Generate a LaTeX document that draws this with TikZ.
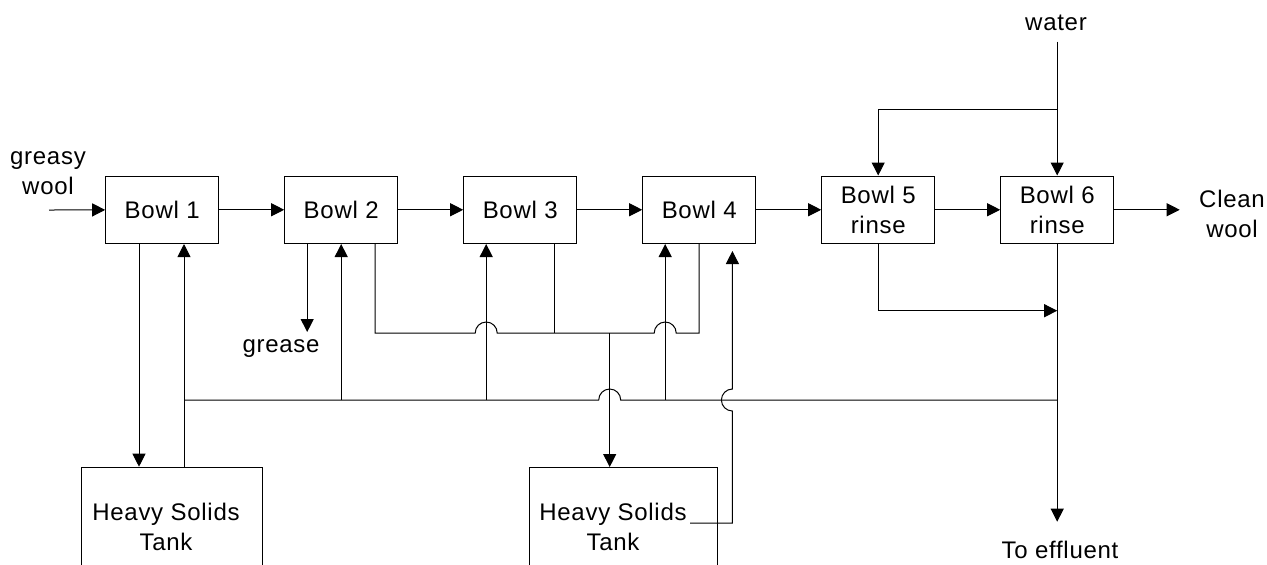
\documentclass[tikz,border=0pt]{standalone}
\usepackage{fontspec}
\setmainfont{Liberation Sans}[LetterSpace=3]
\usepackage{tikz}
\usetikzlibrary{arrows.meta, positioning, calc}

\begin{document}
\begin{tikzpicture}[x=0.5pt, y=-0.5pt, node distance=32.5pt, line width=0.5pt,
    font=\fontsize{12pt}{15pt}\selectfont, >={Triangle[length=6.5pt, width=6.5pt]}]
    \tikzstyle{bowl} = [rectangle, draw, align=center, inner sep=1pt,
                        minimum width=56.5pt, minimum height=33.75pt]
    \tikzstyle{tank} = [rectangle, draw, anchor=north west, minimum height=70pt]
    \tikzstyle{txt} = [align=center, inner sep=0pt]
    \tikzstyle{flow} = [->]

    \useasboundingbox (0,0) rectangle (1267,564);

    \node [bowl] (b1) at (162.2,209.75) {Bowl 1};
    \node [bowl, right=of b1] (b2) {Bowl 2};
    \node [bowl, right=of b2] (b3) {Bowl 3};
    \node [bowl, right=of b3] (b4) {Bowl 4};
    \node [bowl, right=of b4] (b5) {Bowl 5\\rinse};
    \node [bowl, right=of b5] (b6) {Bowl 6\\rinse};

    \node [tank, minimum width=90.5pt] (t1) at (80.7,466.7) {};
    \node [tank, minimum width=94.3pt] (t2) at (528.7,467) {};
    \node [txt] (t1txt) at (166,527) {Heavy Solids\\Tank};
    \node [txt] (t2txt) at (613,527) {Heavy Solids\\Tank};

    \node [txt] (wool) at (48,173) {greasy\\wool};
    \node [txt] (grease) at (281,349) {grease};
    \node [txt] (water) at (1056,23) {water};
    \node [txt] (clean) at (1232,214) {Clean\\wool};
    \node [txt] (effluent) at (1060,550) {To effluent};

    % pipe ends under the bowls
    \coordinate (feed) at (49,210);
    \coordinate (d1) at ([xshift=-11.6pt]b1.south);
    \coordinate (u1) at ([xshift=10.9pt]b1.south);
    \coordinate (g2) at ([xshift=-17pt]b2.south);
    \coordinate (c2) at ([xshift=17pt]b2.south);
    \coordinate (u3) at ([xshift=-17pt]b3.south);
    \coordinate (c3) at ([xshift=17pt]b3.south);
    \coordinate (u4) at ([xshift=-17pt]b4.south);
    \coordinate (r4) at ([xshift=16.6pt]b4.south);
    \coordinate (f2) at (609.7,333);
    \coordinate (m) at (b6.south |- 0,400);
    \coordinate (t2out) at (690,523);
    \coordinate (wtop) at (b6.north |- 0,41.7);
    \coordinate (j3) at (u3 |- f2);
    \coordinate (j4) at (u4 |- f2);
    \coordinate (jm) at (f2 |- m);
    \coordinate (jr) at (r4 |- m);

    % wool line
    \draw [flow] (feed) -- (b1);
    \foreach \a/\b in {b1/b2, b2/b3, b3/b4, b4/b5, b5/b6}
        \draw [flow] (\a) -- (\b);
    \draw [flow, shorten >=9.5pt] (b6) -- (clean.west |- b6);

    % water
    \draw [flow] (wtop) -- (b6);
    \draw [flow] (b6.north |- 0,109) -| (b5.north);
    \draw [flow] (b5) |- (b6.south |- 0,310.7);
    \draw [flow, shorten >=9.5pt] (b6) -- (b6 |- effluent.north);

    % tank 1 and grease
    \draw [flow] (d1) -- (d1 |- t1.north);
    \draw [flow] (u1 |- t1.north) -- (u1);
    \draw [flow] (g2) -- (g2 |- 0,332);

    % liquor to tank 2
    \draw (c2) -- (c2 |- f2) -- ([xshift=-5.5pt]j3) arc[start angle=180, end angle=360, radius=11]
        -- ([xshift=-5.5pt]j4) arc[start angle=180, end angle=360, radius=11]
        -- (b4.south |- f2) -- (b4.south);
    \draw (c3) -- (c3 |- f2);
    \draw [flow] (f2) -- (f2 |- t2.north);

    % return to bowls 1-4
    \draw (m) -- ([xshift=5.5pt]jm) arc[start angle=0, end angle=-180, radius=11] -- (u1 |- m);
    \draw [flow] (b2.south |- m) -- (b2.south);
    \draw [flow] (u3 |- m) -- (u3);
    \draw [flow] (u4 |- m) -- (u4);
    \draw [flow] (t2out) -- (t2out -| r4) -- ([yshift=-5.5pt]jr) arc[start angle=90, end angle=270, radius=11]
        -- ([yshift=-3.5pt]r4);
\end{tikzpicture}
\end{document}
